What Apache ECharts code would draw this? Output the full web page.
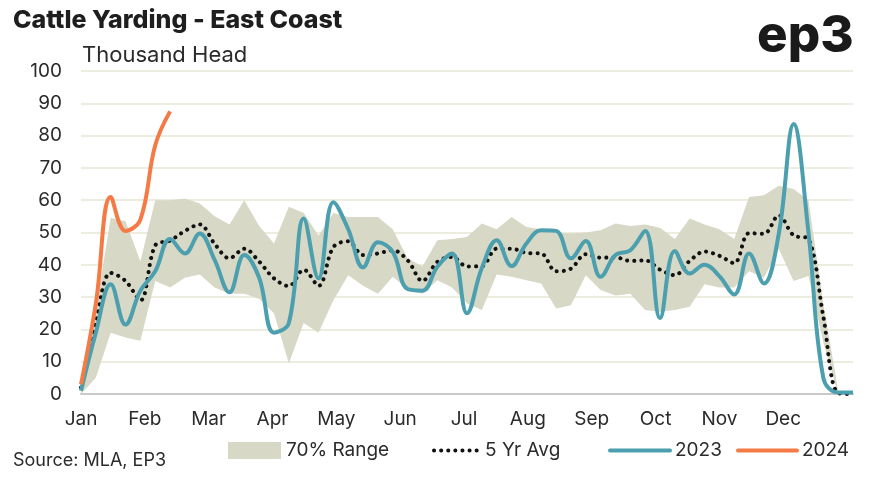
<!DOCTYPE html>
<html><head><meta charset="utf-8">
<script src="https://cdn.jsdelivr.net/npm/echarts/dist/echarts.min.js"></script>
<style>html,body{margin:0;padding:0;background:#fff}#c{width:874px;height:483px}</style>
</head><body><div id="c"></div>
<script>
const months = ['Jan','Feb','Mar','Apr','May','Jun','Jul','Aug','Sep','Oct','Nov','Dec'];
// weekly values, thousand head (week 0 .. 52)
const range70Lower = [0, 5, 19, 17.5, 16.5, 35, 33, 36, 37, 33,
  31, 31, 29.5, 25, 9.5, 22, 19, 29, 36.8, 33.5,
  31, 36.3, 32.5, 31, 35.2, 33, 28, 26, 37, 36.3,
  35.2, 34.2, 26.5, 27.5, 36.8, 32.2, 30.5, 31, 26, 25.5,
  26, 27, 34, 33, 33, 38, 36, 45, 35, 36.5,
  16, 0, 0];
const range70Upper = [2, 26, 54.5, 53.5, 41, 60, 60, 60.5, 59, 55,
  52.5, 60, 52, 46.6, 58, 56, 49, 56, 54.8, 54.8,
  54.8, 51, 42, 39.5, 47.6, 48, 48.6, 52.8, 51, 54.8,
  51.7, 51, 50, 49.7, 50, 50.7, 52.8, 52, 52.5, 51.5,
  48, 54.3, 52.5, 51, 48, 61, 61.5, 64.5, 63.5, 60,
  28, 1, 0];
const avg5yr = [2, 22, 37.5, 35, 29, 46, 47.5, 50.5, 52.5, 46.5,
  42, 45, 41, 35.8, 33.4, 38.5, 33.5, 45.5, 47.3, 43,
  43.5, 44.5, 41.4, 35, 40.9, 42.4, 39.5, 39.6, 45, 45,
  43.7, 43.5, 38, 38.8, 43.3, 42.2, 42.3, 41.2, 41.4, 38.5,
  36.8, 41.2, 44.1, 42.8, 40.5, 49.8, 49.6, 55.3, 49.1, 48,
  24, 0.3, 0];
const yard2023 = [1, 19, 34, 21.5, 32, 38, 48, 43.5, 49.7, 41.5,
  31.5, 43, 36, 19, 22, 54.3, 35.8, 59.4, 51, 39.2,
  47, 44, 32.5, 32, 39.4, 43.5, 25, 39, 47.6, 39.6,
  46.6, 50.7, 50.5, 42, 47.4, 36.3, 43, 44.5, 50.5, 23.5,
  44.3, 37.3, 40, 36.5, 30.8, 43.5, 34.2, 49.6, 83.6, 50,
  5, 0.5, 0.5];
const yard2024 = [3, 28, 61, 50.5, 54, 77, 87.5];

const MONTH_STEP = 4.3;
const FONT = 'Inter';
const TXT = '#2b2b2b';
const C_RANGE = '#d7d8c5', C_2023 = '#4c9fae', C_2024 = '#f47b45';

const pairs = arr => arr.map((v, i) => [i, v]);
const rangeData = range70Upper.map((u, i) => [i, range70Lower[i], u]);

function renderBand(params, api) {
  if (params.dataIndex !== 0) return null;
  const pts = [];
  for (let i = 0; i < rangeData.length; i++) pts.push(api.coord([rangeData[i][0], rangeData[i][2]]));
  for (let i = rangeData.length - 1; i >= 0; i--) pts.push(api.coord([rangeData[i][0], rangeData[i][1]]));
  return {type: 'polygon', shape: {points: pts}, style: {fill: C_RANGE, stroke: null}};
}

const legendText = {fontFamily: FONT, fontSize: 19, color: TXT};
const chart = echarts.init(document.getElementById('c'), null, {renderer: 'canvas'});
chart.setOption({
  backgroundColor: '#ffffff',
  animation: false,
  textStyle: {fontFamily: FONT},
  title: [
    {text: 'Cattle Yarding - East Coast', left: 8, top: 3,
     textStyle: {fontFamily: FONT, fontSize: 25, fontWeight: 800, color: '#1e1e1e'}},
    {text: 'Thousand Head', left: 77, top: 39,
     textStyle: {fontFamily: FONT, fontSize: 22, fontWeight: 'normal', color: TXT}}
  ],
  graphic: [
    {type: 'text', left: 757, top: 11,
     style: {text: 'ep3', fontFamily: FONT, fontSize: 51, fontWeight: 800, fill: '#1a1a1a'}},
    {type: 'text', left: 13, top: 452,
     style: {text: 'Source: MLA, EP3', fontFamily: FONT, fontSize: 18, fill: TXT}}
  ],
  grid: {left: 81, right: 21, top: 71, bottom: 89, containLabel: false},
  xAxis: {
    type: 'value', min: 0, max: 52, interval: MONTH_STEP,
    axisLine: {show: true, onZero: false, lineStyle: {color: '#c9c9c9', width: 2}},
    axisTick: {show: false},
    splitLine: {show: false},
    axisLabel: {
      margin: 16, fontFamily: FONT, fontSize: 19, color: TXT,
      formatter: v => {
        const k = Math.round(v / MONTH_STEP);
        return (Math.abs(v - k * MONTH_STEP) < 1e-3 && k < 12) ? months[k] : '';
      }
    }
  },
  yAxis: {
    type: 'value', min: 0, max: 100, interval: 10,
    axisLine: {show: false}, axisTick: {show: false},
    splitLine: {lineStyle: {color: '#ececdf', width: 2}},
    axisLabel: {margin: 19, fontFamily: FONT, fontSize: 19, color: TXT}
  },
  legend: [
    {left: 223, top: 436, itemWidth: 53, itemHeight: 17, itemGap: 0, textStyle: legendText,
     data: [{name: '70% Range', icon: 'rect', itemStyle: {color: C_RANGE, borderWidth: 0}}]},
    {left: 427, top: 436, itemWidth: 46, itemHeight: 17, itemGap: 0, textStyle: legendText,
     data: [{name: '5 Yr Avg', itemStyle: {opacity: 0},
             lineStyle: {color: '#111', width: 4, type: [0.1, 7], cap: 'round'}}]},
    {left: 603, top: 436, itemWidth: 60, itemHeight: 17, itemGap: 0, textStyle: legendText,
     data: [{name: '2023', itemStyle: {opacity: 0}, lineStyle: {color: C_2023, width: 4, cap: 'round'}}]},
    {left: 731, top: 436, itemWidth: 59, itemHeight: 17, itemGap: 0, textStyle: legendText,
     data: [{name: '2024', itemStyle: {opacity: 0}, lineStyle: {color: C_2024, width: 4, cap: 'round'}}]}
  ],
  series: [
    {name: '70% Range', type: 'custom', data: rangeData, renderItem: renderBand,
     itemStyle: {color: C_RANGE}, encode: {x: 0, y: [1, 2]}, silent: true, z: 1},
    {name: '5 Yr Avg', type: 'line', data: pairs(avg5yr), smooth: 0.35,
     symbol: 'none', itemStyle: {color: '#111'}, z: 3,
     lineStyle: {color: '#111', width: 4, type: [0.1, 7], cap: 'round'}},
    {name: '2023', type: 'line', data: pairs(yard2023), smooth: 0.4,
     symbol: 'none', itemStyle: {color: C_2023}, z: 4,
     lineStyle: {color: C_2023, width: 4}},
    {name: '2024', type: 'line', data: pairs(yard2024), smooth: 0.4,
     symbol: 'none', itemStyle: {color: C_2024}, z: 5,
     lineStyle: {color: C_2024, width: 4}}
  ]
});
</script>
</body></html>
